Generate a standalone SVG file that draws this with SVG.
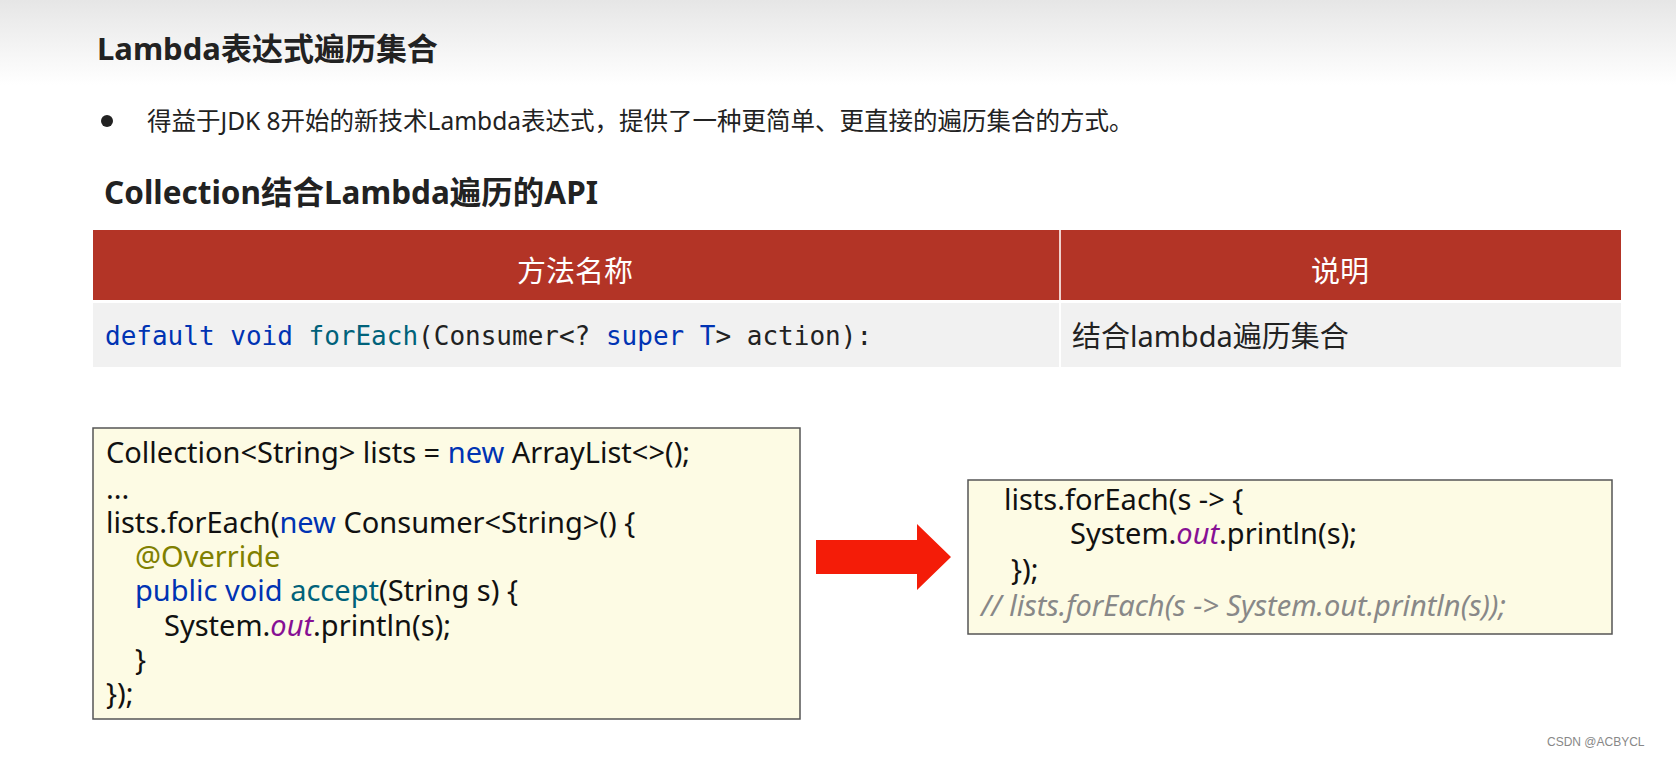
<svg xmlns="http://www.w3.org/2000/svg" width="1676" height="761" viewBox="0 0 1676 761">
<defs>
<linearGradient id="bg" x1="0" y1="0" x2="0" y2="1">
<stop offset="0" stop-color="#e6e6e6"/><stop offset="1" stop-color="#ffffff"/>
</linearGradient>
</defs>
<style>
.t{font-family:"Noto Sans","Noto Sans CJK SC",sans-serif;fill:#222}
.h{font-weight:bold}
.m{font-family:"DejaVu Sans Mono","Liberation Mono",monospace;font-size:26px;fill:#222}
.c{font-family:"Noto Sans","Noto Sans CJK SC",sans-serif;font-size:29px;fill:#111}
.kw{fill:#0033b3}.fn{fill:#00627a}.an{fill:#808000}.st{fill:#871094;font-style:italic}
.box{fill:#fdfbe4;stroke:#555;stroke-width:1.5}
</style>
<rect width="1676" height="761" fill="#fff"/>
<rect width="1676" height="85" fill="url(#bg)"/>
<g id="title"><text class="t h" x="97" y="60" font-size="31">Lambda表达式遍历集合</text></g>
<g id="bullet"><circle cx="107" cy="121" r="6" fill="#222"/>
<text class="t" x="147" y="130" font-size="24.5">得益于JDK 8开始的新技术Lambda表达式，提供了一种更简单、更直接的遍历集合的方式。</text></g>
<g id="subtitle"><text class="t h" x="104" y="204" font-size="31.5">Collection结合Lambda遍历的API</text></g>
<g id="table">
<rect x="93" y="230" width="1528" height="70" fill="#b33426"/>
<line x1="1060" y1="230" x2="1060" y2="300" stroke="#f0d0cc" stroke-width="2"/>
<rect x="93" y="303" width="1528" height="64" fill="#f1f1f1"/>
<line x1="1060" y1="303" x2="1060" y2="367" stroke="#fff" stroke-width="2"/>
<text class="t" x="575" y="282" font-size="29" text-anchor="middle" style="fill:#fff">方法名称</text>
<text class="t" x="1340" y="282" font-size="29" text-anchor="middle" style="fill:#fff">说明</text>
<text class="m" x="105" y="345"><tspan class="kw">default void</tspan> <tspan class="fn">forEach</tspan>(Consumer&lt;? <tspan class="kw">super T</tspan>&gt; action):</text>
<text class="t" x="1072" y="347" font-size="29">结合lambda遍历集合</text>
</g>
<g id="leftcode">
<rect class="box" x="93" y="428" width="707" height="291"/>
<text class="c" x="106" y="463">Collection&lt;String&gt; lists = <tspan class="kw">new</tspan> ArrayList&lt;&gt;();</text>
<text class="c" x="106" y="499">...</text>
<text class="c" x="106" y="533">lists.forEach(<tspan class="kw">new</tspan> Consumer&lt;String&gt;() {</text>
<text class="c an" x="135" y="567">@Override</text>
<text class="c" x="135" y="601"><tspan class="kw">public void</tspan> <tspan class="fn">accept</tspan>(String s) {</text>
<text class="c" x="164" y="636">System.<tspan class="st">out</tspan>.println(s);</text>
<text class="c" x="135" y="670">}</text>
<text class="c" x="106" y="704">});</text>
</g>
<g id="connectors">
<polygon points="816,540 917,540 917,524 951,557 917,590 917,574 816,574" fill="#f41c08"/>
</g>
<g id="rightcode">
<rect class="box" x="968" y="480" width="644" height="154"/>
<text class="c" x="1004" y="510">lists.forEach(s -&gt; {</text>
<text class="c" x="1070" y="544">System.<tspan class="st">out</tspan>.println(s);</text>
<text class="c" x="1011" y="580">});</text>
<text class="c" x="981" y="616" style="fill:#888;font-style:italic">//  lists.forEach(s -&gt; System.out.println(s));</text>
</g>
<text x="1547" y="746" font-family="Liberation Sans,sans-serif" font-size="12" fill="#888">CSDN @ACBYCL</text>
</svg>
